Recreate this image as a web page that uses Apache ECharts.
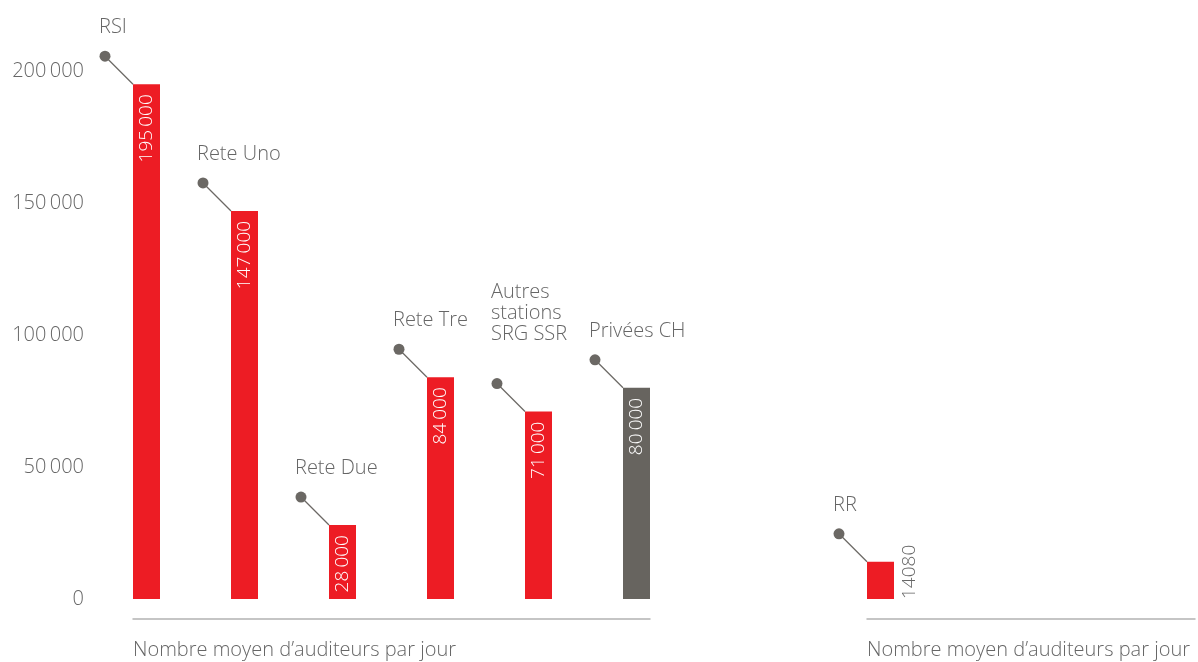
<!DOCTYPE html>
<html>
<head>
<meta charset="utf-8">
<script src="https://cdn.jsdelivr.net/npm/echarts@6/dist/echarts.min.js"></script>
<style>
html,body{margin:0;padding:0;background:#fff;}
#chart{width:1198px;height:662px;}
</style>
</head>
<body>
<div id="chart"></div>
<script>
// ---- data ----
const categories = ['RSI', 'Rete Uno', 'Rete Due', 'Rete Tre', 'Autres\nstations\nSRG SSR\n', 'Privées CH'];
const listeners = [195000, 147000, 28000, 84000, 71000, 80000];
const rrCategories = ['RR'];
const rrListeners = [14080];
const yTicks = [0, 50000, 100000, 150000, 200000];
const xAxisTitle = 'Nombre moyen d’auditeurs par jour';
const privateCategory = 'Privées CH';

// ---- layout / style ----
const FONT = '"Open Sans", "DejaVu Sans", sans-serif';
const RED = '#ed1c24';
const GREY_BAR = '#67645f';
const TEXT = '#666666';
const AXIS = '#b3b3b3';
const SLOT = 98;      // px between bars
const BAR_W = 27;
const LEAD = 28;      // leader offset
const xMin = -(BAR_W / 2) / SLOT;
const grid1Width = 5 * SLOT + BAR_W;
const grid2Width = 328;

function fmt(v) {
  return String(v).replace(/\B(?=(\d{3})+(?!\d))/g, '\u2009');
}

const mainData = listeners.map((v, i) => ({ name: categories[i], value: [i, v] }));
const rrData = rrListeners.map((v, i) => ({ name: rrCategories[i], value: [i, v] }));

function leader(names) {
  return function (params, api) {
    const p = api.coord([api.value(0), api.value(1)]);
    const left = p[0] - BAR_W / 2;
    const top = p[1];
    const dx = left - LEAD, dy = top - LEAD;
    return {
      type: 'group',
      children: [
        { type: 'line', shape: { x1: dx, y1: dy, x2: left, y2: top },
          style: { stroke: '#6b6864', lineWidth: 1.3 } },
        { type: 'circle', shape: { cx: dx, cy: dy, r: 5.5 },
          style: { fill: '#6b6864' } },
        { type: 'text', x: dx - 6, y: dy - 18,
          style: { text: names[params.dataIndex], fill: TEXT, font: '300 20px ' + FONT,
                   align: 'left', verticalAlign: 'bottom', lineHeight: 21 } }
      ]
    };
  };
}

const xAxisCommon = {
  type: 'value',
  offset: 20,
  axisLine: { show: true, onZero: false, lineStyle: { color: AXIS, width: 1.5 } },
  axisTick: { show: false },
  axisLabel: { show: false },
  splitLine: { show: false },
  name: xAxisTitle,
  nameLocation: 'start',
  nameGap: 0,
  nameTextStyle: { color: TEXT, fontSize: 20, fontWeight: 300, fontFamily: FONT,
                   align: 'left', verticalAlign: 'top', padding: [20, 0, 0, 0], lineHeight: 22 }
};

const yAxisCommon = {
  type: 'value',
  min: yTicks[0],
  max: yTicks[yTicks.length - 1],
  interval: yTicks[1] - yTicks[0],
  axisLine: { show: false },
  axisTick: { show: false },
  splitLine: { show: false }
};

const option = {
  animation: false,
  backgroundColor: '#fff',
  grid: [
    { left: 133, width: grid1Width, top: 71, bottom: 63 },
    { left: 867, width: grid2Width, top: 71, bottom: 63 }
  ],
  xAxis: [
    Object.assign({}, xAxisCommon, { gridIndex: 0, min: xMin, max: xMin + grid1Width / SLOT }),
    Object.assign({}, xAxisCommon, { gridIndex: 1, min: xMin, max: xMin + grid2Width / SLOT })
  ],
  yAxis: [
    Object.assign({}, yAxisCommon, { gridIndex: 0,
      axisLabel: { show: true, color: TEXT, fontSize: 20, fontWeight: 300, fontFamily: FONT,
                   margin: 49, formatter: v => fmt(v) } }),
    Object.assign({}, yAxisCommon, { gridIndex: 1, axisLabel: { show: false } })
  ],
  series: [
    {
      type: 'bar', xAxisIndex: 0, yAxisIndex: 0, barWidth: BAR_W,
      data: mainData,
      itemStyle: { color: p => p.name === privateCategory ? GREY_BAR : RED },
      label: { show: true, position: 'insideTop', distance: 10, rotate: 90,
               align: 'right', verticalAlign: 'middle', color: '#fff',
               fontSize: 19, fontWeight: 300, fontFamily: FONT,
               formatter: p => fmt(p.value[1]) }
    },
    {
      type: 'custom', xAxisIndex: 0, yAxisIndex: 0, clip: false, z: 5,
      data: mainData.map(d => d.value), renderItem: leader(categories)
    },
    {
      type: 'bar', xAxisIndex: 1, yAxisIndex: 1, barWidth: BAR_W,
      data: rrData,
      itemStyle: { color: RED },
      label: { show: true, position: ['159%', '100%'], rotate: 90,
               align: 'left', verticalAlign: 'middle', color: TEXT,
               fontSize: 19, fontWeight: 300, fontFamily: FONT,
               formatter: p => String(p.value[1]) }
    },
    {
      type: 'custom', xAxisIndex: 1, yAxisIndex: 1, clip: false, z: 5,
      data: rrData.map(d => d.value), renderItem: leader(rrCategories)
    }
  ]
};

const chart = echarts.init(document.getElementById('chart'), null, { renderer: 'canvas' });
chart.setOption(option);
</script>
</body>
</html>
